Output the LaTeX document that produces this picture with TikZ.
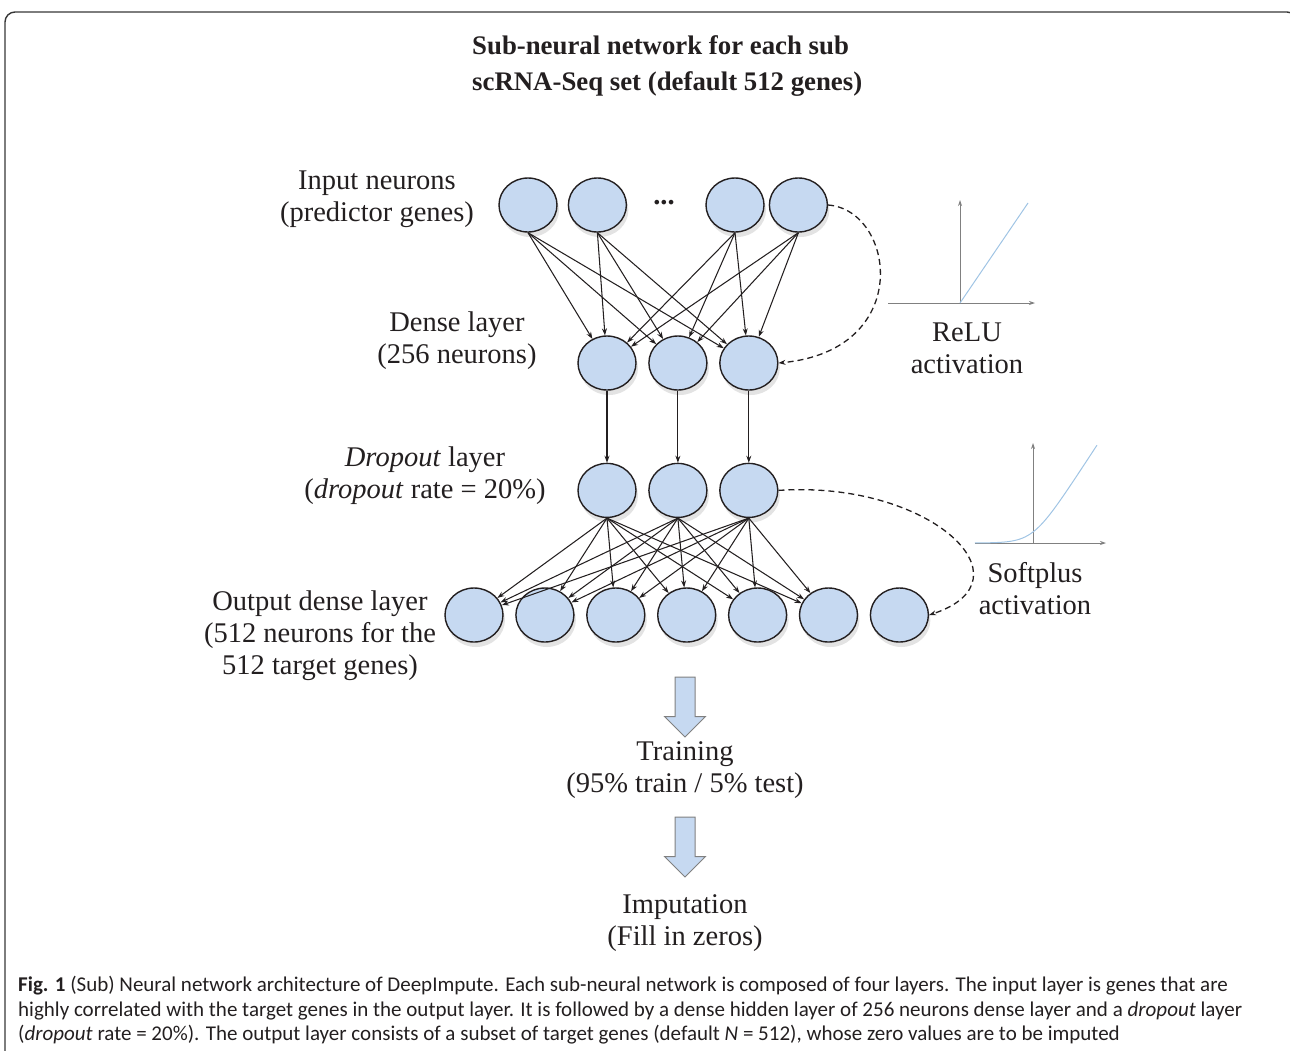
\documentclass[tikz,border=0pt]{standalone}
\usepackage{fontspec}
\setmainfont{Liberation Serif}
\newfontfamily\capfont{Carlito}
\usepackage{xcolor}
\usetikzlibrary{arrows.meta, positioning, shapes.geometric, shapes.arrows, shadows}
\definecolor{cellblue}{RGB}{198,217,241}
\definecolor{curveblue}{RGB}{160,196,228}
\definecolor{axisgray}{RGB}{128,128,128}
\definecolor{inkcolor}{RGB}{35,31,32}
\definecolor{framegray}{RGB}{55,55,55}

\begin{document}
\begin{tikzpicture}[x=1pt, y=-1pt,
    >=Stealth,
    neuron/.style={
        ellipse, draw=inkcolor, line width=1.4pt, fill=cellblue,
        minimum width=58pt, minimum height=54pt, inner sep=0pt,
        drop shadow={opacity=0.22, shadow xshift=2pt, shadow yshift=-5pt}
    },
    syn/.style={-{Stealth[length=7pt,width=5pt]}, line width=1.05pt, draw=inkcolor},
    act/.style={
        -{Stealth[length=7pt,width=5pt]}, dash pattern=on 6pt off 4pt,
        line width=1.3pt, draw=inkcolor
    },
    lbl/.style={
        font=\fontsize{28.5}{32}\selectfont,
        text=inkcolor, align=center, inner sep=0pt
    },
    axis/.style={-{Stealth[length=6pt,width=4pt]}, line width=0.8pt, draw=axisgray},
    flowarrow/.style={
        single arrow, shape border rotate=270,
        draw=axisgray, line width=1pt, fill=cellblue,
        minimum height=60pt, minimum width=40pt,
        single arrow head extend=10.5pt, inner sep=9.5pt
    }
]
\useasboundingbox (0,0) rectangle (1290,1050);

% frame
\draw[framegray, line width=1.4pt, rounded corners=10pt]
(5,1070) -- (5,12) -- (1297,12) -- (1297,1070);

% =========================
% TITLE
% =========================
\node[font=\bfseries\fontsize{26.8}{36}\selectfont,
      text=inkcolor, align=left, anchor=west, inner sep=0pt] (title) at (472,66)
{Sub-neural network for each sub\\scRNA-Seq set (default 512 genes)};

% =========================
% INPUT NEURONS
% =========================
\node[neuron] (in1) at (528,205) {};
\node[neuron, right=10pt of in1] (in2) {};
\node[lbl] (dots) at (664,203) {\textbf{...}};
\node[neuron] (in3) at (735,205) {};
\node[neuron, right=4pt of in3] (in4) {};

\node[lbl] (inlbl) at (377,199) {Input neurons\\(predictor genes)};

% =========================
% DENSE LAYER
% =========================
\node[neuron] (hd1) at (607,363) {};
\node[neuron, right=11.5pt of hd1] (hd2) {};
\node[neuron, right=11.5pt of hd2] (hd3) {};

\node[lbl] (hdlbl) at (457,341) {Dense layer\\(256 neurons)};

\draw (in1.south) edge[syn] (hd1) edge[syn] (hd2) edge[syn] (hd3);
\draw (in2.south) edge[syn] (hd1) edge[syn] (hd2) edge[syn] (hd3);
\draw (in3.south) edge[syn] (hd1) edge[syn] (hd2) edge[syn] (hd3);
\draw (in4.south) edge[syn] (hd1) edge[syn] (hd2) edge[syn] (hd3);

% =========================
% DROPOUT LAYER
% =========================
\node[neuron, below=72pt of hd1] (dp1) {};
\node[neuron, below=72pt of hd2] (dp2) {};
\node[neuron, below=72pt of hd3] (dp3) {};

\node[lbl] (dplbl) at (425,476)
{\textit{Dropout} layer\\(\textit{dropout} rate = 20\%)};

\draw[syn] (hd1) -- (dp1);
\draw[syn] (hd2) -- (dp2);
\draw[syn] (hd3) -- (dp3);

% =========================
% OUTPUT DENSE LAYER
% =========================
\node[neuron] (out1) at (474,615) {};
\node[neuron, right=11.5pt of out1] (out2) {};
\node[neuron, right=11.5pt of out2] (out3) {};
\node[neuron, right=11.5pt of out3] (out4) {};
\node[neuron, right=11.5pt of out4] (out5) {};
\node[neuron, right=11.5pt of out5] (out6) {};
\node[neuron, right=11.5pt of out6] (out7) {};

\node[lbl] (outlbl) at (320,636)
{Output dense layer\\(512 neurons for the\\512 target genes)};

\draw (dp1.south) edge[syn] (out1) edge[syn] (out2) edge[syn] (out3)
                  edge[syn] (out4) edge[syn] (out5) edge[syn] (out6);
\draw (dp2.south) edge[syn] (out1) edge[syn] (out2) edge[syn] (out3)
                  edge[syn] (out4) edge[syn] (out5) edge[syn] (out6);
\draw (dp3.south) edge[syn] (out1) edge[syn] (out2) edge[syn] (out3)
                  edge[syn] (out4) edge[syn] (out5) edge[syn] (out6);

% =========================
% ACTIVATIONS
% =========================
\coordinate (relu0) at (960,303);
\draw[axis] (relu0) ++(-72,0) -- ++(147,0);
\draw[axis] (relu0) -- ++(0,-103);
\draw[curveblue, line width=1pt] (relu0) -- ++(68,-100);
\node[lbl] (relulbl) at (967,348) {ReLU\\activation};

\draw[act] (in4.east) .. controls (895,210) and (915,350) .. (hd3.east);

\coordinate (soft0) at (1033,543);
\draw[axis] (soft0) ++(-58,0) -- ++(131,0);
\draw[axis] (soft0) -- ++(0,-100);
\begin{scope}[shift={(soft0)}]
\draw[curveblue, line width=1pt]
plot[domain=-5.6:6.15, samples=50, smooth] ({10.4*\x},{-15.9*ln(1+exp(\x))});
\end{scope}
\node[lbl] (softlbl) at (1035,589) {Softplus\\activation};

\draw[act] (dp3.east) .. controls (930,480) and (1035,580) .. (out7.east);

% =========================
% TRAINING / IMPUTATION
% =========================
\node[flowarrow] (arr1) at (685,702) {};
\node[lbl] (train) at (685,770) {Training\\(95\% train / 5\% test)};

\node[flowarrow] (arr2) at (685,842) {};
\node[lbl] (impute) at (685,923) {Imputation\\(Fill in zeros)};

% =========================
% CAPTION
% =========================
\node[font=\capfont\fontsize{21}{24.5}\selectfont, text=inkcolor,
      align=left, anchor=north west, inner sep=0pt] (caption) at (18,976)
{\textbf{Fig. 1} (Sub) Neural network architecture of DeepImpute. Each sub-neural network is composed of four layers. The input layer is genes that are\\
highly correlated with the target genes in the output layer. It is followed by a dense hidden layer of 256 neurons dense layer and a \textit{dropout} layer\\
(\textit{dropout} rate = 20\%). The output layer consists of a subset of target genes (default \textit{N} = 512), whose zero values are to be imputed};

\end{tikzpicture}
\end{document}
